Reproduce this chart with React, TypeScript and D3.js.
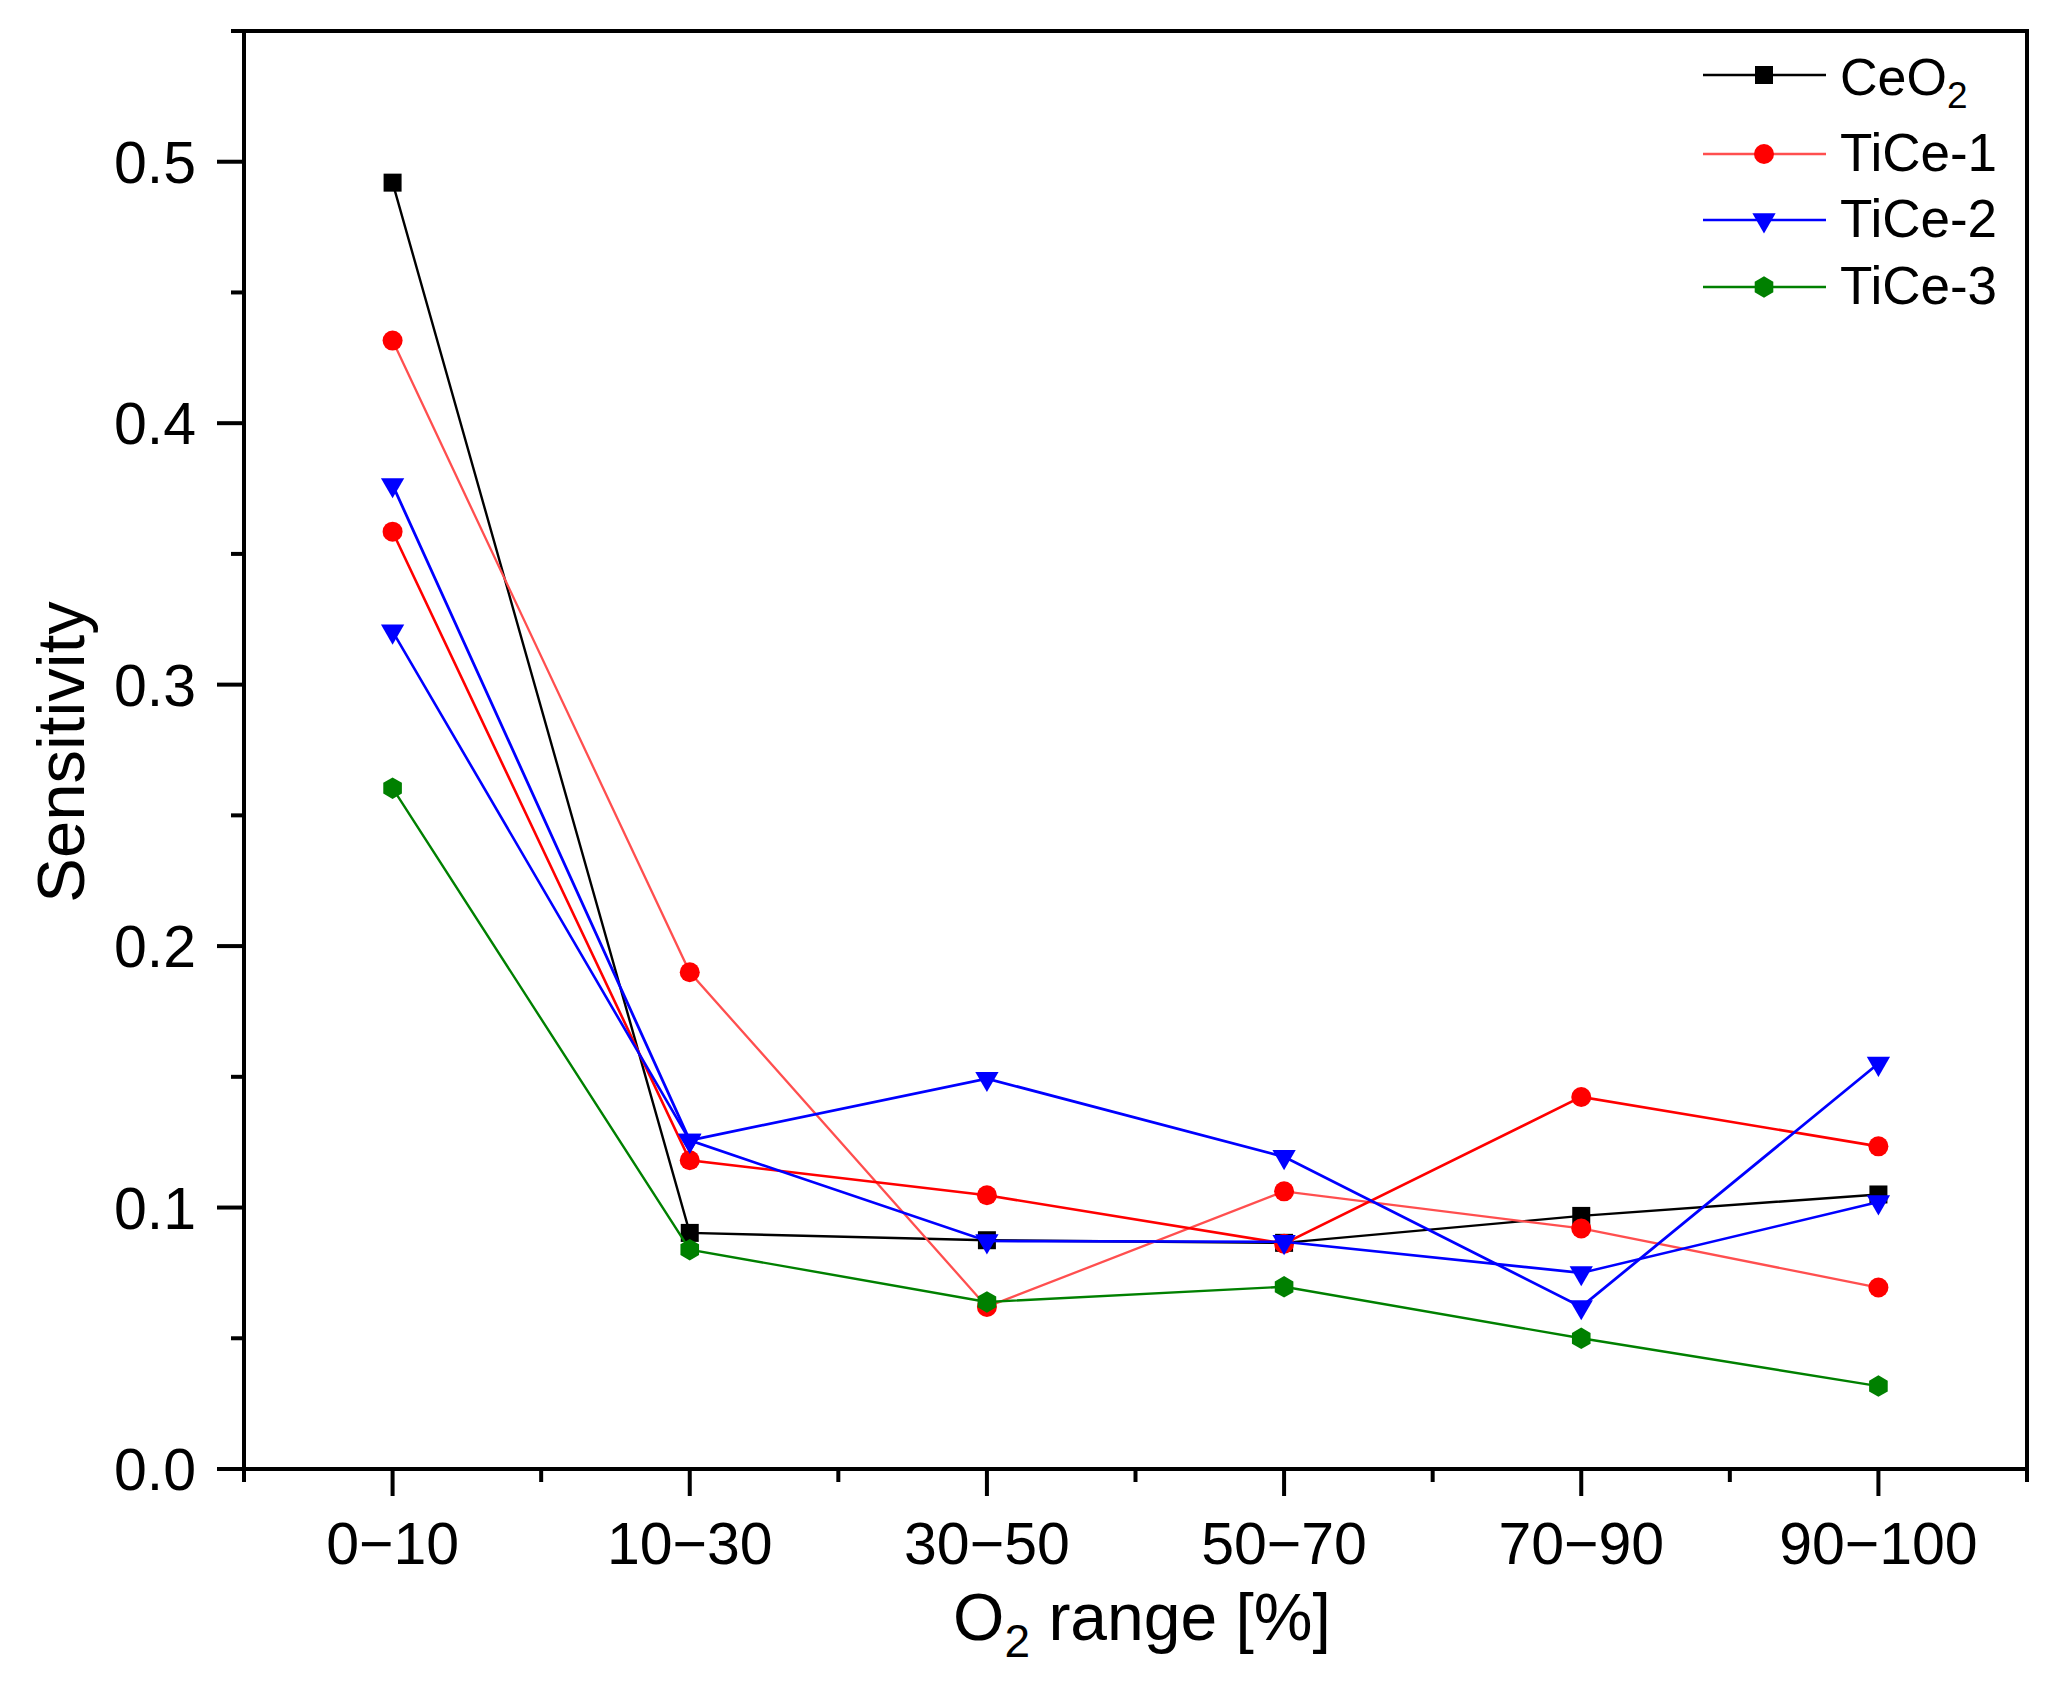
import React, { useEffect } from "react";
import * as d3 from "d3";

// ---- data ----
const categories = ["0\u221210", "10\u221230", "30\u221250", "50\u221270", "70\u221290", "90\u2212100"];
const ceo2 = [0.492, 0.0903, 0.0875, 0.0865, 0.0968, 0.105];
const tice1a = [0.4316, 0.19, 0.062, 0.1062, 0.092, 0.0694];
const tice1b = [0.3585, 0.1181, 0.1047, 0.0862, 0.1423, 0.1234];
const tice2a = [0.3764, 0.1257, 0.1493, 0.1194, 0.062, 0.1551];
const tice2b = [0.3204, 0.1257, 0.0872, 0.0869, 0.075, 0.1021];
const tice3 = [0.2604, 0.0839, 0.0639, 0.0697, 0.05, 0.0317];
const yMajorTicks = [0, 0.1, 0.2, 0.3, 0.4, 0.5];
const yMinorTicks = [0.05, 0.15, 0.25, 0.35, 0.45, 0.55];
const xMinorTicks = [0.5, 1.5, 2.5, 3.5, 4.5, 5.5, 6.5];

const W = 2070;
const H = 1698;
const M = { left: 244, right: 2027, top: 31, bottom: 1469 };
const FONT = "'Liberation Sans', Arial, Helvetica, sans-serif";

const hexagon = {
  draw(context: any, size: number) {
    const r = Math.sqrt((2 * size) / (3 * Math.sqrt(3)));
    for (let i = 0; i < 6; i++) {
      const a = -Math.PI / 2 + (i * Math.PI) / 3;
      const px = r * Math.cos(a);
      const py = r * Math.sin(a);
      if (i === 0) context.moveTo(px, py);
      else context.lineTo(px, py);
    }
    context.closePath();
  },
};

type Series = {
  name: string;
  values: number[];
  line: string;
  fill: string;
  width: number;
  shape: "square" | "circle" | "triDown" | "hex";
  legend: boolean;
};

const series: Series[] = [
  { name: "CeO2", values: ceo2, line: "#000000", fill: "#000000", width: 2.4, shape: "square", legend: true },
  { name: "TiCe-1", values: tice1a, line: "#ff4f4f", fill: "#ff0000", width: 2.3, shape: "circle", legend: true },
  { name: "TiCe-1b", values: tice1b, line: "#ff0000", fill: "#ff0000", width: 2.6, shape: "circle", legend: false },
  { name: "TiCe-2", values: tice2b, line: "#0000ff", fill: "#0000ff", width: 2.6, shape: "triDown", legend: true },
  { name: "TiCe-2b", values: tice2a, line: "#0000ff", fill: "#0000ff", width: 2.8, shape: "triDown", legend: false },
  { name: "TiCe-3", values: tice3, line: "#008000", fill: "#008000", width: 2.4, shape: "hex", legend: true },
];

function symbolPath(shape: Series["shape"]): string {
  switch (shape) {
    case "square":
      return d3.symbol().type(d3.symbolSquare).size(18 * 18)() as string;
    case "circle":
      return d3.symbol().type(d3.symbolCircle).size(Math.PI * 10 * 10)() as string;
    case "triDown":
      return d3.symbol().type(d3.symbolTriangle).size(235)() as string;
    case "hex":
      return d3.symbol().type(hexagon as any).size(300)() as string;
  }
}

function Marker({ shape, x, y, fill }: { shape: Series["shape"]; x: number; y: number; fill: string }) {
  const rot = shape === "triDown" ? " rotate(180)" : "";
  return <path d={symbolPath(shape)} transform={`translate(${x},${y})${rot}`} fill={fill} stroke="none" />;
}

export default function App() {
  useEffect(() => {
    document.body.style.margin = "0";
  }, []);

  const x = d3.scaleLinear().domain([0.5, 6.5]).range([M.left, M.right]);
  const y = d3.scaleLinear().domain([0, 0.55]).range([M.bottom, M.top]);

  const lineGen = d3
    .line<number>()
    .x((_, i) => x(i + 1))
    .y((d) => y(d));

  const legendRows = [
    { s: series[0], cy: 75 },
    { s: series[1], cy: 154 },
    { s: series[3], cy: 220 },
    { s: series[5], cy: 287 },
  ];

  return (
    <svg
      width={W}
      height={H}
      viewBox={`0 0 ${W} ${H}`}
      style={{ position: "absolute", left: 0, top: 0, background: "#fff" }}
      fontFamily={FONT}
    >
      <rect x={0} y={0} width={W} height={H} fill="#fff" />

      {/* series */}
      {series.map((s) => (
        <g key={s.name}>
          <path d={lineGen(s.values) as string} fill="none" stroke={s.line} strokeWidth={s.width} strokeLinejoin="miter" />
          {s.values.map((v, i) => (
            <Marker key={i} shape={s.shape} x={x(i + 1)} y={y(v)} fill={s.fill} />
          ))}
        </g>
      ))}

      {/* frame */}
      <rect
        x={M.left}
        y={M.top}
        width={M.right - M.left}
        height={M.bottom - M.top}
        fill="none"
        stroke="#000"
        strokeWidth={4}
      />

      {/* y ticks */}
      {yMajorTicks.map((t) => (
        <g key={`ym${t}`}>
          <line x1={M.left - 27} x2={M.left} y1={y(t)} y2={y(t)} stroke="#000" strokeWidth={4} />
          <text x={196} y={y(t) + 21} textAnchor="end" fontSize={59} fill="#000">
            {d3.format(".1f")(t)}
          </text>
        </g>
      ))}
      {yMinorTicks.map((t) => (
        <line key={`yn${t}`} x1={M.left - 13} x2={M.left} y1={y(t)} y2={y(t)} stroke="#000" strokeWidth={4} />
      ))}

      {/* x ticks */}
      {categories.map((c, i) => (
        <g key={c}>
          <line x1={x(i + 1)} x2={x(i + 1)} y1={M.bottom} y2={M.bottom + 27} stroke="#000" strokeWidth={4} />
          <text x={x(i + 1)} y={1564} textAnchor="middle" fontSize={59} fill="#000">
            {c}
          </text>
        </g>
      ))}
      {xMinorTicks.map((t) => (
        <line key={`xn${t}`} x1={x(t)} x2={x(t)} y1={M.bottom} y2={M.bottom + 13} stroke="#000" strokeWidth={4} />
      ))}

      {/* axis titles */}
      <text transform={`translate(84,752) rotate(-90)`} textAnchor="middle" fontSize={67} fill="#000">
        Sensitivity
      </text>
      <text x={1142} y={1640} textAnchor="middle" fontSize={66} fill="#000">
        O
        <tspan dy={17} fontSize={46}>
          2
        </tspan>
        <tspan dy={-17}> range [%]</tspan>
      </text>

      {/* legend */}
      {legendRows.map(({ s, cy }) => (
        <g key={`lg${s.name}`}>
          <line x1={1703} x2={1826} y1={cy} y2={cy} stroke={s.line} strokeWidth={2.4} />
          <Marker shape={s.shape} x={1764} y={cy} fill={s.fill} />
          {s.name === "CeO2" ? (
            <text x={1840} y={cy + 20} fontSize={52} fill="#000">
              CeO
              <tspan dy={13} fontSize={37}>
                2
              </tspan>
            </text>
          ) : (
            <text x={1840} y={cy + 17} fontSize={53} fill="#000">
              {s.name}
            </text>
          )}
        </g>
      ))}
    </svg>
  );
}
